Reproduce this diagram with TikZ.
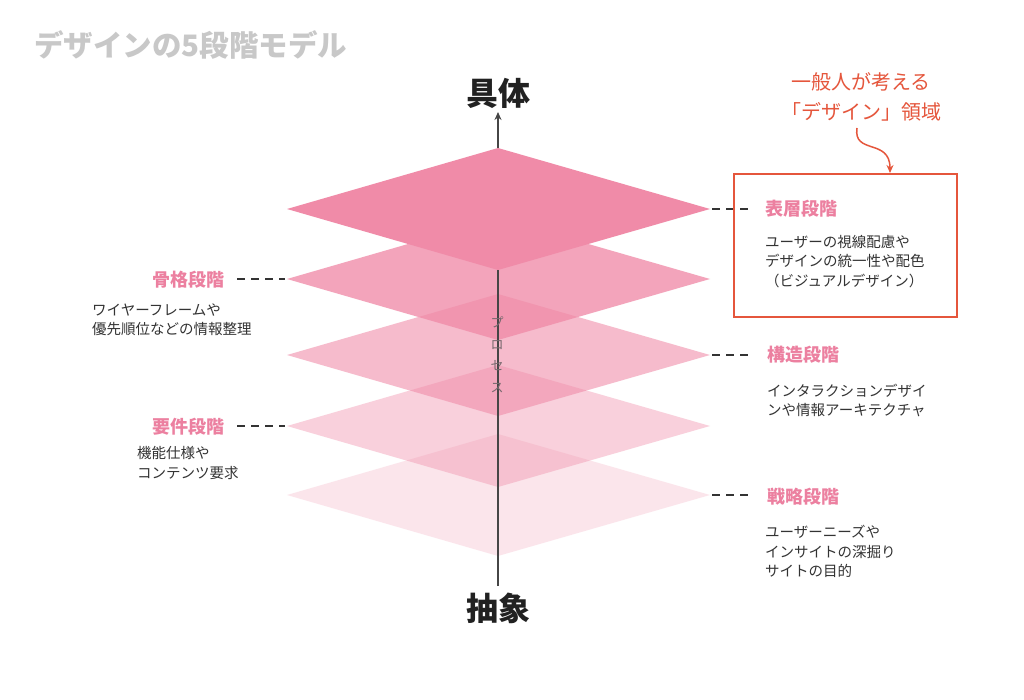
\documentclass[tikz,border=0pt]{standalone}
\usepackage{fontspec}
\setmainfont{Noto Sans CJK JP}
\usetikzlibrary{arrows.meta}
\definecolor{pinkbase}{RGB}{240,139,168}
\definecolor{headpink}{RGB}{236,128,160}
\definecolor{redline}{RGB}{229,86,60}
\definecolor{bodygray}{RGB}{51,51,51}
\definecolor{titlegray}{RGB}{200,200,200}
\definecolor{axisgray}{RGB}{70,70,70}
\definecolor{procgray}{RGB}{120,105,110}
\tikzset{
  dashline/.style={draw=bodygray, line width=1.8pt, dash pattern=on 8pt off 6pt},
  heading/.style={inner sep=0pt, text=headpink, font=\fontsize{18}{22}\selectfont\bfseries},
  bodytext/.style={inner sep=0pt, text=bodygray, align=left, font=\fontsize{14.5}{19.5}\selectfont},
  polar/.style={inner sep=0pt, text=black!87, font=\fontsize{32}{36}\selectfont\bfseries},
}
\begin{document}
\begin{tikzpicture}[x=1pt,y=-1pt]
\useasboundingbox (0,0) rectangle (1024,700);
\fill[white] (0,0) rectangle (1024,700);
% title
\node[anchor=west, inner sep=0pt, text=titlegray, font=\fontsize{29.5}{32}\selectfont\bfseries] (title) at (34,45) {デザインの5段階モデル};
% lower layers
\foreach \y/\op in {495/0.22, 426/0.40, 355/0.58, 279/0.78}
  \fill[pinkbase, fill opacity=\op] (287,\y) -- (498,\y-61) -- (710,\y) -- (498,\y+61) -- cycle;
% axis
\node[polar] (concrete) at (498,93) {具体};
\node[polar] (abstract) at (498,608) {抽象};
\coordinate (axtop) at (498,112);
\coordinate (axbot) at (498,586);
\draw[axisgray, line width=1.4pt, -{Stealth[length=8pt,width=7pt]}] (axbot) -- (axtop);
\node[inner sep=0pt, text=procgray, align=center, font=\fontsize{13}{21.5}\selectfont] (proc) at (497,355) {プ\\ロ\\セ\\ス};
% top layer
\fill[pinkbase] (287,209) -- (498,148) -- (710,209) -- (498,270) -- cycle;
% corner coordinates
\coordinate (R1) at (712,209); \coordinate (R1e) at (750,209);
\coordinate (R3) at (712,355); \coordinate (R3e) at (750,355);
\coordinate (R5) at (712,495); \coordinate (R5e) at (750,495);
\coordinate (L2) at (285,279); \coordinate (L2e) at (237,279);
\coordinate (L4) at (285,426); \coordinate (L4e) at (237,426);
\draw[dashline] (R1) -- (R1e);
\draw[dashline] (R3) -- (R3e);
\draw[dashline] (R5) -- (R5e);
\draw[dashline] (L2e) -- (L2);
\draw[dashline] (L4e) -- (L4);
% right labels
\node[heading, anchor=west] (h1) at (765,209) {表層段階};
\node[bodytext, anchor=west] (b1) at (765,261.5) {ユーザーの視線配慮や\\デザインの統一性や配色\\（ビジュアルデザイン）};
\node[heading, anchor=west] (h3) at (767,355) {構造段階};
\node[bodytext, anchor=west] (b3) at (767,400.5) {インタラクションデザイ\\ンや情報アーキテクチャ};
\node[heading, anchor=west] (h5) at (767,497) {戦略段階};
\node[bodytext, anchor=west] (b5) at (765,551.5) {ユーザーニーズや\\インサイトの深掘り\\サイトの目的};
% left labels
\node[heading, anchor=west] (h2) at (152,280) {骨格段階};
\node[bodytext, anchor=west] (b2) at (92,320) {ワイヤーフレームや\\優先順位などの情報整理};
\node[heading, anchor=west] (h4) at (152,427) {要件段階};
\node[bodytext, anchor=west] (b4) at (137,463) {機能仕様や\\コンテンツ要求};
% red annotation
\node[draw=redline, line width=1.8pt, minimum width=223pt, minimum height=143pt, anchor=north west, inner sep=0pt] (redbox) at (733,173) {};
\node[inner sep=0pt, text=redline, align=center, font=\fontsize{20}{30}\selectfont] (note) at (861,97) {一般人が考える\\「デザイン」領域};
\coordinate (cstart) at (857,128);
\draw[redline, line width=1.5pt, -{Stealth[length=8pt,width=7pt]}] (cstart) .. controls (853,155) and (890,138) .. (redbox.north -| 890,0);
\end{tikzpicture}
\end{document}
